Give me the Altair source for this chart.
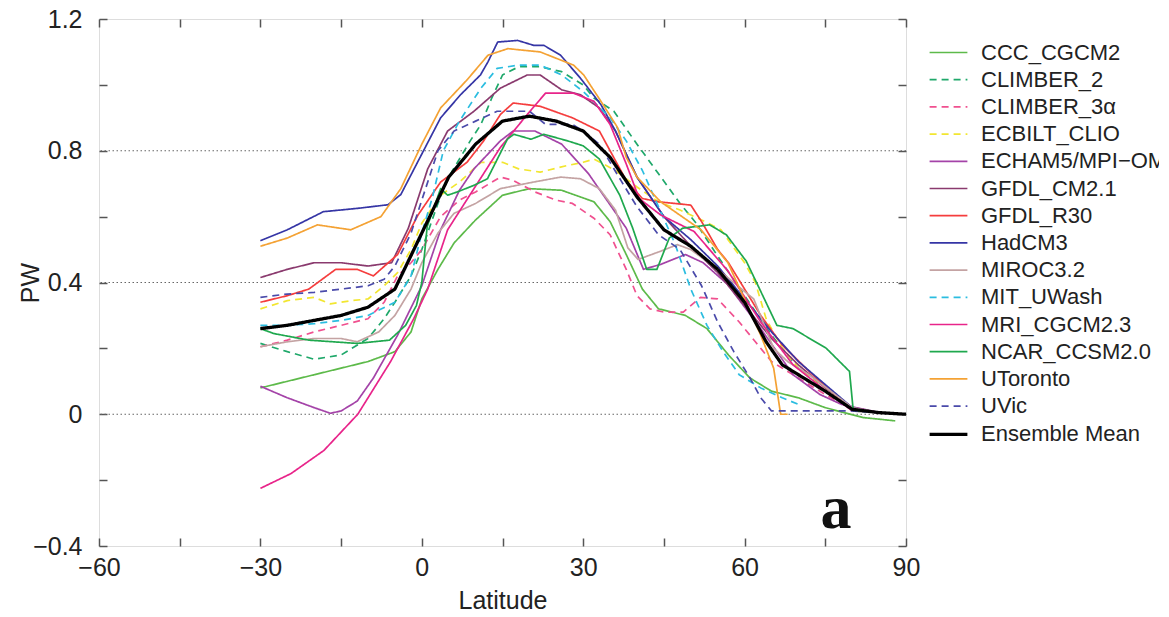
import altair as alt
import pandas as pd

MODELS = ["CCC_CGCM2", "CLIMBER_2", "CLIMBER_3α", "ECBILT_CLIO", "ECHAM5/MPI−OM",
          "GFDL_CM2.1", "GFDL_R30", "HadCM3", "MIROC3.2", "MIT_UWash",
          "MRI_CGCM2.3", "NCAR_CCSM2.0", "UToronto", "UVic", "Ensemble Mean"]
COLORS = ["#5dba4a", "#1fa86a", "#f0508f", "#f2e630", "#a443a8",
          "#8a3a6e", "#f53d3d", "#3535a5", "#c4a3a3", "#2bbde0",
          "#e8248a", "#1fa84e", "#f4a234", "#4a4aaa", "#000000"]
DASHES = [[1, 0], [7, 5], [7, 5], [7, 5], [1, 0],
          [1, 0], [1, 0], [1, 0], [1, 0], [7, 5],
          [1, 0], [1, 0], [1, 0], [7, 5], [1, 0]]
WIDTHS = [1.7] * 14 + [3.3]

CCC_LAT = [-30, -25, -20, -15, -10, -5, -2, 0, 3, 6, 10, 15, 20, 26, 32, 35, 38, 41, 44, 49, 53, 57, 61, 65, 70, 75, 82, 88]
CCC_PW = [.08, .10, .12, .14, .16, .19, .25, .35, .44, .52, .59, .665, .685, .68, .645, .585, .485, .38, .32, .30, .26, .18, .11, .07, .05, .02, -.01, -.02]

CL2_LAT = [-30, -25, -20, -15, -10, -7, -5, -2, 0, 3, 5, 9, 11, 13, 15, 18, 22, 26, 30, 32, 35.7, 40, 44, 48, 51, 55, 60, 65, 70, 75, 80, 85, 90]
CL2_PW = [.215, .19, .167, .18, .23, .29, .34, .42, .50, .64, .72, .83, .88, .96, 1.03, 1.055, 1.055, 1.04, 1.0, .96, .92, .82, .73, .64, .58, .48, .36, .24, .14, .07, .02, .005, 0]

CL3_LAT = [-30, -25, -20, -15, -10, -7, -4.5, -2, 0, 3.5, 7, 10, 14.6, 17, 21, 25, 28, 32, 35, 38, 40, 42.4, 45, 48.6, 51.8, 55, 59, 62, 65, 70, 75, 80, 85, 90]
CL3_PW = [.205, .225, .25, .27, .29, .34, .42, .46, .50, .60, .65, .675, .72, .71, .675, .65, .64, .595, .545, .44, .36, .32, .31, .31, .355, .35, .28, .22, .16, .11, .06, .015, .005, 0]

ECB_LAT = [-30, -25, -20, -17, -13, -10, -7, -4.5, -2, 0, 3.5, 7, 11, 15, 18, 22, 27, 30, 32, 36, 40, 44, 48, 52, 55.6, 60, 62, 64, 67, 70, 75, 80, 85, 90]
ECB_PW = [.32, .345, .355, .335, .345, .35, .39, .43, .50, .58, .665, .705, .765, .765, .745, .735, .755, .765, .775, .74, .69, .645, .62, .59, .56, .46, .40, .29, .20, .14, .08, .02, .005, 0]

ECH_LAT = [-30, -25, -20, -17, -15, -12, -9, -4.5, 0, 3.5, 7, 9.7, 14.6, 17, 21, 26, 31, 38, 41.2, 44.4, 49, 52.3, 56.8, 63, 69, 74, 78, 85, 90]
ECH_PW = [.085, .05, .02, .003, .01, .04, .11, .24, .39, .56, .68, .745, .83, .86, .86, .82, .73, .565, .44, .455, .485, .46, .395, .26, .12, .06, .03, .005, 0]

GCM_LAT = [-30, -25, -20, -15, -10, -5.6, -2.5, 1.1, 4.8, 9.7, 14.6, 19.6, 22, 26, 29.5, 33, 36, 40, 45, 50, 55, 60, 65, 70, 75, 80, 85, 90]
GCM_PW = [.415, .44, .46, .46, .45, .46, .565, .745, .86, .92, .99, 1.03, 1.03, .985, .97, .93, .86, .72, .60, .51, .43, .33, .23, .15, .08, .02, .005, 0]

R30_LAT = [-30, -25, -21, -16, -12, -9, -4.5, -0.7, 3.5, 8.4, 11.5, 14.6, 17, 22, 28, 33, 38, 41, 44, 47, 50, 52, 55, 57, 63, 67, 72, 76, 80, 85, 90]
R30_PW = [.34, .36, .38, .44, .44, .42, .485, .605, .705, .765, .83, .91, .945, .935, .90, .86, .71, .655, .645, .64, .635, .585, .50, .46, .30, .21, .13, .07, .02, .005, 0]

HAD_LAT = [-30, -25, -18.3, -12, -6.3, -3.9, 0, 3.5, 7.2, 10.9, 12.3, 14.1, 17.8, 20.8, 22.7, 25.8, 29.5, 33.3, 36, 40, 45, 50, 55, 60, 65, 70, 75, 80, 85, 90]
HAD_PW = [.527, .56, .615, .625, .636, .667, .79, .90, .97, 1.03, 1.07, 1.13, 1.135, 1.12, 1.12, 1.09, 1.02, .94, .86, .72, .60, .53, .45, .35, .25, .16, .09, .02, .005, 0]

MIR_LAT = [-30, -25, -20, -15, -12, -8, -5, -2, 0, 3, 6, 10, 14.6, 20.8, 25.8, 29.5, 33, 36, 38.3, 40.2, 44.4, 47.5, 50, 55, 61.7, 65.4, 68, 72, 76, 80, 85, 90]
MIR_PW = [.205, .22, .23, .23, .22, .25, .30, .38, .46, .55, .61, .64, .685, .705, .72, .715, .685, .62, .505, .47, .495, .515, .50, .44, .35, .20, .16, .12, .07, .02, .005, 0]

MIT_LAT = [-30, -25, -20, -15, -10, -5, -2, 0, 2, 4, 7, 11, 14, 18, 22, 26, 30, 35, 38, 41, 44, 47, 50, 53, 56, 59, 63, 67, 70]
MIT_PW = [.27, .27, .275, .285, .30, .34, .42, .55, .66, .80, .89, .99, 1.05, 1.06, 1.06, 1.03, .98, .90, .83, .74, .63, .52, .38, .27, .19, .12, .08, .05, .03]

MRI_LAT = [-30, -24.3, -18.2, -11.9, -5.8, -1.5, 1.1, 4.8, 9.7, 14.6, 19.6, 23, 28.2, 32, 35, 38, 40.4, 44.4, 50.6, 56.9, 63, 69, 75.2, 80, 85, 90]
MRI_PW = [-.225, -.18, -.11, 0, .16, .29, .38, .56, .685, .81, .91, .975, .975, .95, .88, .76, .655, .605, .555, .435, .28, .15, .07, .01, .005, 0]

NCA_LAT = [-30, -27.5, -21, -12, -6, -3, -1, 0, 1, 3.5, 4.8, 6.6, 9.7, 12.2, 15.9, 17.1, 20.3, 22.7, 27.1, 30, 33, 36.8, 39.2, 41.8, 43.7, 46, 48.5, 53.5, 56.6, 60.3, 62.8, 66, 69, 75.2, 79.5, 80.2, 85, 90]
NCA_PW = [.26, .245, .225, .215, .225, .27, .33, .40, .57, .685, .665, .675, .695, .715, .835, .85, .835, .85, .83, .815, .775, .665, .565, .44, .44, .535, .565, .575, .545, .465, .38, .27, .26, .20, .13, .01, .005, 0]

UTO_LAT = [-30, -25, -19.4, -13.2, -7.6, -3.9, 0, 3.5, 8.4, 12.3, 16, 22, 28.2, 30.1, 33.7, 36.4, 38, 40, 44.4, 51.9, 56.9, 63, 65.4, 66.7, 68]
UTO_PW = [.51, .535, .575, .56, .60, .685, .82, .93, 1.015, 1.09, 1.11, 1.10, 1.06, 1.03, .94, .87, .78, .72, .645, .56, .46, .24, .14, 0, 0]

UVI_LAT = [-30, -25, -20, -15, -10, -7, -5, -2, 0, 3, 6, 10, 14, 20, 23, 28, 30, 33, 37, 40, 44, 48, 52, 55, 58, 61, 63, 65, 70, 80, 90]
UVI_PW = [.355, .365, .37, .38, .39, .41, .45, .55, .65, .80, .86, .89, .92, .92, .88, .88, .86, .82, .71, .63, .545, .50, .39, .28, .19, .11, .05, .01, .01, .01, 0]

ENS_LAT = [-30, -25, -20, -15, -10, -5, 0, 5, 10, 15, 20, 25, 30, 35, 40, 45, 50, 55, 60, 64, 67, 69, 75, 80, 85, 90]
ENS_PW = [.26, .27, .285, .30, .325, .38, .55, .72, .82, .89, .905, .89, .86, .78, .66, .56, .51, .44, .34, .22, .15, .13, .07, .015, .005, 0]

SERIES = [(MODELS[0], CCC_LAT, CCC_PW), (MODELS[1], CL2_LAT, CL2_PW),
          (MODELS[2], CL3_LAT, CL3_PW), (MODELS[3], ECB_LAT, ECB_PW),
          (MODELS[4], ECH_LAT, ECH_PW), (MODELS[5], GCM_LAT, GCM_PW),
          (MODELS[6], R30_LAT, R30_PW), (MODELS[7], HAD_LAT, HAD_PW),
          (MODELS[8], MIR_LAT, MIR_PW), (MODELS[9], MIT_LAT, MIT_PW),
          (MODELS[10], MRI_LAT, MRI_PW), (MODELS[11], NCA_LAT, NCA_PW),
          (MODELS[12], UTO_LAT, UTO_PW), (MODELS[13], UVI_LAT, UVI_PW),
          (MODELS[14], ENS_LAT, ENS_PW)]

GRID_LEVELS = [0, 0.4, 0.8]
X_TICKS = [-60, -45, -30, -15, 0, 15, 30, 45, 60, 75, 90]
Y_TICKS = [-0.4, -0.2, 0, 0.2, 0.4, 0.6, 0.8, 1.0, 1.2]
PANEL = [{"lat": 77, "pw": -0.345, "t": "a"}]

rows = []
for name, lats, vals in SERIES:
    for la, v in zip(lats, vals):
        rows.append({"model": name, "lat": la, "pw": v})
df = pd.DataFrame(rows)

FONT = "Liberation Sans"
x_scale = alt.Scale(domain=[-60, 90], nice=False, zero=False)
y_scale = alt.Scale(domain=[-0.4, 1.2], nice=False, zero=False)

x_axis = alt.Axis(values=X_TICKS, labelExpr="datum.value % 30 == 0 ? format(datum.value, 'd') : ''",
                  title="Latitude", domain=False, grid=False, offset=-8, tickSize=8,
                  tickColor="#555", tickWidth=1.5, labelFontSize=25, labelFont=FONT,
                  labelColor="#222", labelPadding=9, titleFontSize=25, titleFont=FONT,
                  titleFontWeight="normal", titleColor="#222", titlePadding=8, labelFlush=False,
                  labelOverlap=False)
y_axis = alt.Axis(values=Y_TICKS,
                  labelExpr="round(datum.value*10) % 4 == 0 ? (datum.value == 0 ? '0' : format(datum.value, '.1f')) : ''",
                  title="PW", domain=False, grid=False, offset=-8, tickSize=8,
                  tickColor="#555", tickWidth=1.5, labelFontSize=25, labelFont=FONT,
                  labelColor="#222", labelPadding=17, titleFontSize=25, titleFont=FONT,
                  titleFontWeight="normal", titleColor="#222", titlePadding=-11, labelFlush=False,
                  labelOverlap=False)

leg = alt.Legend(title=None, orient="none", legendX=834, legendY=19,
                 symbolType="M-1.4,0H1.4", symbolSize=729, labelOffset=17,
                 labelFontSize=22, labelFont=FONT, labelColor="#222", rowPadding=1.2,
                 padding=0, labelLimit=400)

lines = alt.Chart(df).mark_line(strokeJoin="round").encode(
    x=alt.X("lat:Q", scale=x_scale, axis=x_axis),
    y=alt.Y("pw:Q", scale=y_scale, axis=y_axis),
    color=alt.Color("model:N", scale=alt.Scale(domain=MODELS, range=COLORS), legend=leg),
    strokeDash=alt.StrokeDash("model:N", scale=alt.Scale(domain=MODELS, range=DASHES), legend=leg),
    strokeWidth=alt.StrokeWidth("model:N", scale=alt.Scale(type="ordinal", domain=MODELS, range=WIDTHS), legend=leg),
)

grid = alt.Chart(pd.DataFrame({"level": GRID_LEVELS})).mark_rule(
    color="#666", strokeDash=[1.5, 2.5], strokeWidth=1
).encode(y=alt.Y("level:Q", scale=y_scale, axis=None))

mirror_x = alt.Axis(orient="top", values=X_TICKS, labels=False, title=None, domain=False,
                    grid=False, offset=-8, tickSize=8, tickColor="#555", tickWidth=1.5)
mirror_y = alt.Axis(orient="right", values=Y_TICKS, labels=False, title=None, domain=False,
                    grid=False, offset=-8, tickSize=8, tickColor="#555", tickWidth=1.5)

label = alt.Chart(pd.DataFrame(PANEL)).mark_text(
    font="Liberation Serif", fontWeight="bold", fontSize=62, baseline="alphabetic",
    align="center", color="#111"
).encode(x=alt.X("lat:Q", scale=x_scale, axis=mirror_x),
         y=alt.Y("pw:Q", scale=y_scale, axis=mirror_y),
         text="t:N")

chart = alt.layer(grid, lines, label).resolve_axis(x="independent", y="independent").properties(
    width=807, height=527,
    autosize=alt.AutoSizeParams(type="none"),
    padding={"left": 91, "top": 11, "right": 253, "bottom": 68},
).configure_view(stroke="#555", strokeWidth=2).configure(background="white")

chart.save("out.html", embed_options={"renderer": "svg", "actions": False})
